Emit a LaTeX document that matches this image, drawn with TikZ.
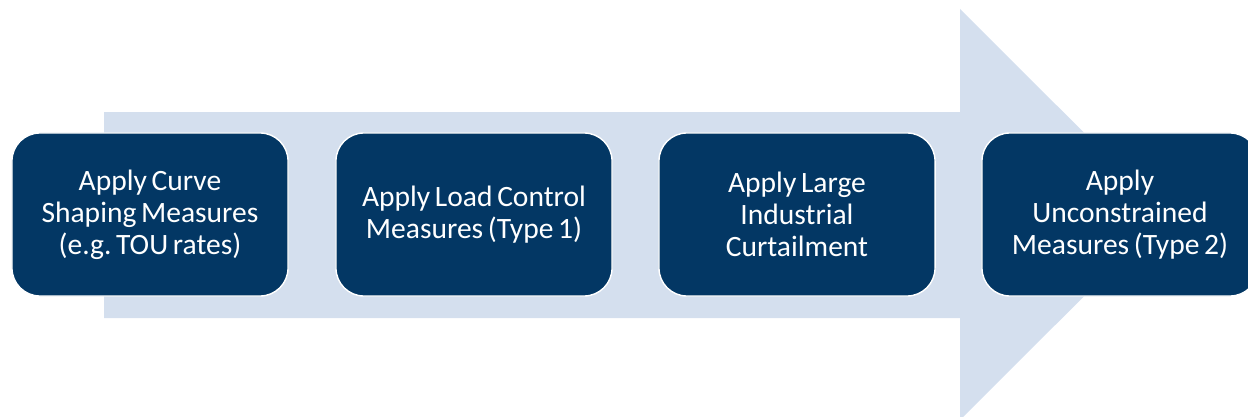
\documentclass[tikz,border=0pt]{standalone}
\usepackage{fontspec}
\setmainfont{Carlito}[WordSpace=0.7]
\usepackage{tikz}
\usetikzlibrary{positioning}

\definecolor{navy}{RGB}{3,55,100}
\definecolor{paleblue}{RGB}{212,223,238}

\tikzset{
    stepbox/.style={draw=white, line width=1pt, fill=navy, rounded corners=0.7cm,
        minimum width=6.9cm, minimum height=4.075cm, align=center,
        text=white, font=\fontsize{21}{22.8}\selectfont}
}
\frenchspacing

\begin{document}
\begin{tikzpicture}[x=0.025cm, y=0.025cm]
    \useasboundingbox (0,0) rectangle (1248,416);

    % --- BIG ARROW (BACKGROUND) ---
    \fill[paleblue] (104,98) -- (104,304) -- (960,304) -- (960,407)
        -- (1166,201.5) -- (960,-4) -- (960,98) -- cycle;

    % --- STEPS ---
    \node[stepbox] (curve) at (150,201.5) {Apply Curve\\Shaping Measures\\(e.g. TOU rates)};
    \node[stepbox] (load) at (474,201.5) {Apply Load Control\\Measures (Type 1)};
    \node[stepbox] (large) at (797,201.5) {Apply Large\\Industrial\\Curtailment};
    \node[stepbox] (uncon) at (1120,201.5) {Apply\\Unconstrained\\Measures (Type 2)};
\end{tikzpicture}
\end{document}
